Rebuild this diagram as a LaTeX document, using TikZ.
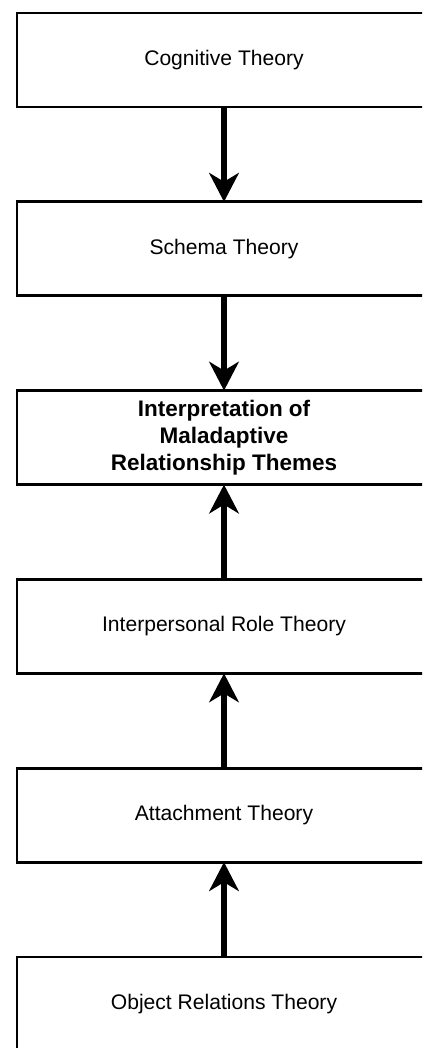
\documentclass[tikz,border=0pt]{standalone}
\usepackage{fontspec}
\setmainfont{Liberation Sans}
\usetikzlibrary{arrows.meta,positioning}

\begin{document}
\begin{tikzpicture}[
theorybox/.style={draw=black, line width=2.1pt, outer sep=0pt,
  minimum width=10.35cm, minimum height=2.35cm, align=center,
  font=\fontsize{15}{18}\selectfont},
mainbox/.style={theorybox, font=\fontsize{16}{19.2}\selectfont\bfseries},
bigarrow/.style={line width=4.3pt, -{Stealth[length=0.72cm, width=0.74cm, inset=0.22cm]}},
node distance=2.37cm
]

% -------- Page frame (boxes run off the right edge) --------
\useasboundingbox (0,0) rectangle (10.55,26.2);
\clip (0,0) rectangle (10.55,26.2);

% -------- Theory boxes --------
\node[theorybox] (cognitive) at (5.6,24.7) {Cognitive Theory};
\node[theorybox, below=of cognitive] (schema) {Schema Theory};
\node[mainbox, below=of schema] (themes)
{Interpretation of\\ Maladaptive\\ Relationship Themes};
\node[theorybox, below=of themes] (role) {Interpersonal Role Theory};
\node[theorybox, below=of role] (attach) {Attachment Theory};
\node[theorybox, below=of attach] (object) {Object Relations Theory};

% -------- Arrows into the central box --------
\draw[bigarrow] (cognitive.south) -- (schema.north);
\draw[bigarrow] (schema.south) -- (themes.north);
\draw[bigarrow] (role.north) -- (themes.south);
\draw[bigarrow] (attach.north) -- (role.south);
\draw[bigarrow] (object.north) -- (attach.south);

\end{tikzpicture}
\end{document}
